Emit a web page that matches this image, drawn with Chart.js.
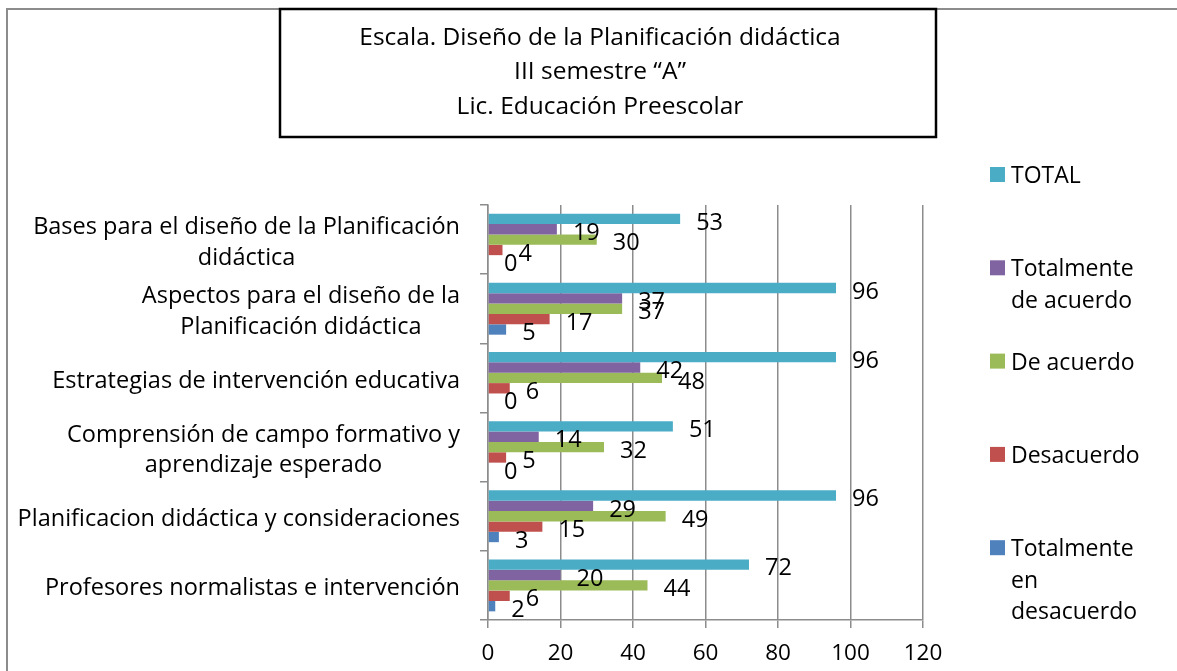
<!DOCTYPE html>
<html>
<head>
<meta charset="utf-8">
<script src="https://cdn.jsdelivr.net/npm/chart.js@4"></script>
<style>
  html, body { margin: 0; padding: 0; background: #fff; }
  canvas { display: block; }
</style>
</head>
<body>
<canvas id="chart" width="1177" height="671"></canvas>
<script>
// categories, top to bottom
const categories = [
  ['Bases para el diseño de la Planificación', 'didáctica'],
  ['Aspectos para el diseño de la', 'Planificación didáctica'],
  ['Estrategias de intervención educativa'],
  ['Comprensión de campo formativo y', 'aprendizaje esperado'],
  ['Planificacion didáctica y consideraciones'],
  ['Profesores normalistas e intervención']
];

const seriesNames = ['TOTAL', 'Totalmente de acuerdo', 'De acuerdo', 'Desacuerdo', 'Totalmente en desacuerdo'];
const seriesColors = ['#4BACC6', '#8064A2', '#9BBB59', '#C0504D', '#4F81BD'];

const total        = [53, 96, 96, 51, 96, 72];
const totAcuerdo   = [19, 37, 42, 14, 29, 20];
const deAcuerdo    = [30, 37, 48, 32, 49, 44];
const desacuerdo   = [4, 17, 6, 5, 15, 6];
const totDesacuerdo = [0, 5, 0, 0, 3, 2];

const titleLines = ['Escala. Diseño de la Planificación didáctica', 'III semestre “A”', 'Lic. Educación Preescolar'];

const FONT = '"Open Sans", "Noto Sans", sans-serif';
const gridGray = '#8c8c8c';

const extras = {
  id: 'extras',
  beforeDraw(chart) {
    const ctx = chart.ctx;
    ctx.save();
    // outer frame
    ctx.strokeStyle = '#8c8c8c';
    ctx.lineWidth = 2;
    ctx.beginPath();
    ctx.moveTo(7, 671);
    ctx.lineTo(7, 9);
    ctx.lineTo(1177, 9);
    ctx.stroke();
    // title box
    ctx.fillStyle = '#fff';
    ctx.fillRect(280, 9, 656, 128);
    ctx.strokeStyle = '#000';
    ctx.lineWidth = 2.5;
    ctx.strokeRect(280, 9, 656, 128);
    ctx.fillStyle = '#000';
    ctx.font = '24.5px ' + FONT;
    ctx.textAlign = 'center';
    ctx.textBaseline = 'middle';
    titleLines.forEach((t, i) => ctx.fillText(t, 600, 38 + i * 34.5));
    ctx.restore();
  },
  afterDraw(chart) {
    const ctx = chart.ctx;
    const yScale = chart.scales.y;
    ctx.save();
    ctx.fillStyle = '#000';
    ctx.textBaseline = 'middle';
    ctx.font = '23.5px ' + FONT;

    // category labels: block right aligned, lines centered
    categories.forEach((lines, i) => {
      const cy = yScale.getPixelForTick(i) + 3;
      const w = Math.max(...lines.map(l => ctx.measureText(l).width));
      const cx = 460 - w / 2;
      ctx.textAlign = 'center';
      lines.forEach((l, j) => {
        ctx.fillText(l, cx, cy + (j - (lines.length - 1) / 2) * 30.5);
      });
    });

    // data labels
    ctx.font = '23.5px ' + FONT;
    ctx.textAlign = 'left';
    chart.data.datasets.forEach((ds, di) => {
      const meta = chart.getDatasetMeta(di);
      meta.data.forEach((el, i) => {
        ctx.fillText(String(ds.data[i]), el.x + 16, el.y + 4);
      });
    });

    // legend
    ctx.font = '23px ' + FONT;
    chart.data.datasets.forEach((ds, di) => {
      const top = 167 + di * 93.3;
      ctx.fillStyle = ds.backgroundColor;
      ctx.fillRect(990, top, 15, 15);
      ctx.fillStyle = '#000';
      const words = ds.label.split(' ');
      const lines = [];
      let cur = '';
      words.forEach(w => {
        const test = cur ? cur + ' ' + w : w;
        if (cur && ctx.measureText(test).width > 140) {
          lines.push(cur);
          cur = w;
        } else {
          cur = test;
        }
      });
      lines.push(cur);
      lines.forEach((l, j) => ctx.fillText(l, 1011, top + 9.5 + j * 31.5));
    });
    ctx.restore();
  }
};

const datasets = [total, totAcuerdo, deAcuerdo, desacuerdo, totDesacuerdo].map((d, i) => ({
  label: seriesNames[i],
  data: d,
  backgroundColor: seriesColors[i],
  borderWidth: 0,
  categoryPercentage: 0.75,
  barPercentage: 1.0
}));

new Chart(document.getElementById('chart').getContext('2d'), {
  type: 'bar',
  data: {
    labels: categories.map(c => c.join(' ')),
    datasets: datasets
  },
  options: {
    indexAxis: 'y',
    responsive: false,
    animation: false,
    layout: { padding: { top: 205, right: 254, bottom: 0, left: 0 } },
    plugins: {
      legend: { display: false },
      title: { display: false },
      tooltip: { enabled: false }
    },
    scales: {
      x: {
        min: 0,
        max: 120,
        ticks: { stepSize: 20, color: '#000', font: { family: FONT, size: 22.5 }, padding: 12 },
        grid: { color: gridGray, lineWidth: 1.5, tickLength: 8, drawTicks: true },
        border: { color: gridGray, width: 1.5 },
        afterFit(scale) { scale.height = 51; }
      },
      y: {
        ticks: { display: false },
        grid: { offset: true, drawOnChartArea: false, color: gridGray, lineWidth: 1.5, tickLength: 8 },
        border: { color: gridGray, width: 1.5 },
        afterFit(scale) { scale.width = 488; }
      }
    }
  },
  plugins: [extras]
});
</script>
</body>
</html>
